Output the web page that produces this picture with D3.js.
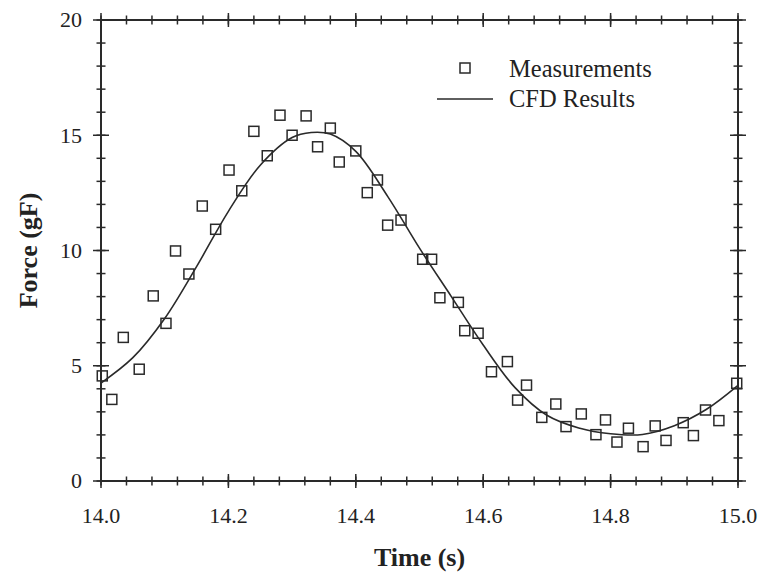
<!DOCTYPE html>
<meta charset="utf-8">
<title>Force vs Time</title>
<style>
    body { margin: 0; background: #fff; }
    svg text { font-family: "Liberation Serif", "Times New Roman", serif; fill: #222; }
</style>
<body>
<script src="https://cdn.jsdelivr.net/npm/d3@7"></script>
<script>
    /* Measurements (time in s, force in gF) */
    var measTime = [14.002, 14.017, 14.035, 14.060, 14.082, 14.102, 14.117, 14.138, 14.159, 14.180,
                    14.201, 14.221, 14.240, 14.261, 14.281, 14.300, 14.322, 14.340, 14.360, 14.374,
                    14.400, 14.418, 14.434, 14.450, 14.471, 14.505, 14.519, 14.532, 14.561, 14.571,
                    14.592, 14.613, 14.638, 14.654, 14.668, 14.692, 14.714, 14.730, 14.754, 14.777,
                    14.792, 14.810, 14.828, 14.851, 14.870, 14.887, 14.914, 14.930, 14.949, 14.970,
                    14.998];
    var measForce = [4.56, 3.54, 6.23, 4.85, 8.03, 6.84, 9.98, 8.98, 11.93, 10.92,
                     13.49, 12.59, 15.17, 14.11, 15.87, 15.00, 15.84, 14.50, 15.31, 13.84,
                     14.32, 12.51, 13.06, 11.10, 11.32, 9.62, 9.62, 7.95, 7.75, 6.52,
                     6.41, 4.74, 5.18, 3.51, 4.16, 2.76, 3.34, 2.36, 2.91, 2.01,
                     2.65, 1.69, 2.29, 1.49, 2.39, 1.76, 2.53, 1.97, 3.08, 2.62,
                     4.24];

    /* CFD results */
    var cfdTime = [14.00, 14.05, 14.10, 14.15, 14.20, 14.25, 14.30, 14.33, 14.36, 14.40, 14.45,
                   14.50, 14.55, 14.60, 14.65, 14.70, 14.75, 14.80, 14.85, 14.90, 14.95, 15.00];
    var cfdForce = [4.25, 5.35, 7.05, 9.30, 11.70, 13.70, 14.90, 15.12, 15.05, 14.30, 12.35,
                    10.10, 8.00, 5.90, 4.05, 2.85, 2.30, 2.05, 2.02, 2.40, 3.10, 4.15];

    /* Tick labels */
    var xTickLabels = ["14.0", "14.2", "14.4", "14.6", "14.8", "15.0"];
    var yTickLabels = ["0", "5", "10", "15", "20"];

    var width = 765, height = 580;
    var plotL = 101, plotR = 738, plotT = 20, plotB = 481;
    var ink = "#2a2a2a";

    var svg = d3.select("body").append("svg")
        .attr("width", width)
        .attr("height", height);

    var x = d3.scaleLinear().domain([14, 15]).range([plotL, plotR]);
    var y = d3.scaleLinear().domain([0, 20]).range([plotB, plotT]);

    /* frame */
    svg.append("rect")
        .attr("x", plotL).attr("y", plotT)
        .attr("width", plotR - plotL).attr("height", plotB - plotT)
        .attr("fill", "none").attr("stroke", ink).attr("stroke-width", 2);

    /* ticks on all four sides, crossing the axis line */
    var xMinor = d3.range(0, 26).map(function (i) { return 14 + i * 0.04; });
    var yMinor = d3.range(0, 21);
    var xMajor = xTickLabels.map(Number);
    var yMajor = yTickLabels.map(Number);

    function hTicks(vals, len, yy) {
        svg.append("g").selectAll("line").data(vals).enter().append("line")
            .attr("x1", function (d) { return x(d); }).attr("x2", function (d) { return x(d); })
            .attr("y1", yy - len).attr("y2", yy + len)
            .attr("stroke", ink).attr("stroke-width", 1.5);
    }
    function vTicks(vals, len, xx) {
        svg.append("g").selectAll("line").data(vals).enter().append("line")
            .attr("y1", function (d) { return y(d); }).attr("y2", function (d) { return y(d); })
            .attr("x1", xx - len).attr("x2", xx + len)
            .attr("stroke", ink).attr("stroke-width", 1.5);
    }
    [plotB, plotT].forEach(function (yy) { hTicks(xMinor, 4.5, yy); hTicks(xMajor, 7, yy); });
    [plotL, plotR].forEach(function (xx) { vTicks(yMinor, 4.5, xx); vTicks(yMajor, 8, xx); });

    /* tick labels */
    svg.append("g").selectAll("text").data(xTickLabels).enter().append("text")
        .attr("x", function (d) { return x(+d); })
        .attr("y", 523)
        .attr("text-anchor", "middle")
        .attr("font-size", 22)
        .text(function (d) { return d; });

    svg.append("g").selectAll("text").data(yTickLabels).enter().append("text")
        .attr("x", 82)
        .attr("y", function (d) { return y(+d); })
        .attr("dy", "0.34em")
        .attr("text-anchor", "end")
        .attr("font-size", 22)
        .text(function (d) { return d; });

    /* axis titles */
    svg.append("text")
        .attr("x", (plotL + plotR) / 2).attr("y", 566)
        .attr("text-anchor", "middle")
        .attr("font-size", 26).attr("font-weight", "bold")
        .text("Time (s)");

    svg.append("text")
        .attr("transform", "translate(37," + (plotT + plotB) / 2 + ") rotate(-90)")
        .attr("text-anchor", "middle")
        .attr("font-size", 26).attr("font-weight", "bold")
        .text("Force (gF)");

    /* CFD curve */
    var line = d3.line()
        .x(function (d, i) { return x(cfdTime[i]); })
        .y(function (d) { return y(d); })
        .curve(d3.curveCatmullRom);

    svg.append("path")
        .datum(cfdForce)
        .attr("d", line)
        .attr("fill", "none")
        .attr("stroke", ink)
        .attr("stroke-width", 1.6);

    /* measurement squares */
    var sq = 10;
    svg.append("g").selectAll("rect").data(measForce).enter().append("rect")
        .attr("x", function (d, i) { return x(measTime[i]) - sq / 2; })
        .attr("y", function (d) { return y(d) - sq / 2; })
        .attr("width", sq).attr("height", sq)
        .attr("fill", "none")
        .attr("stroke", ink)
        .attr("stroke-width", 1.5);

    /* legend */
    svg.append("rect")
        .attr("x", 465 - sq / 2).attr("y", 68 - sq / 2)
        .attr("width", sq).attr("height", sq)
        .attr("fill", "none").attr("stroke", ink).attr("stroke-width", 1.5);
    svg.append("text")
        .attr("x", 509).attr("y", 77)
        .attr("font-size", 24.5)
        .text("Measurements");

    svg.append("line")
        .attr("x1", 437).attr("x2", 493)
        .attr("y1", 99).attr("y2", 99)
        .attr("stroke", ink).attr("stroke-width", 1.6);
    svg.append("text")
        .attr("x", 509).attr("y", 107)
        .attr("font-size", 24.5)
        .text("CFD Results");
</script>
</body>
